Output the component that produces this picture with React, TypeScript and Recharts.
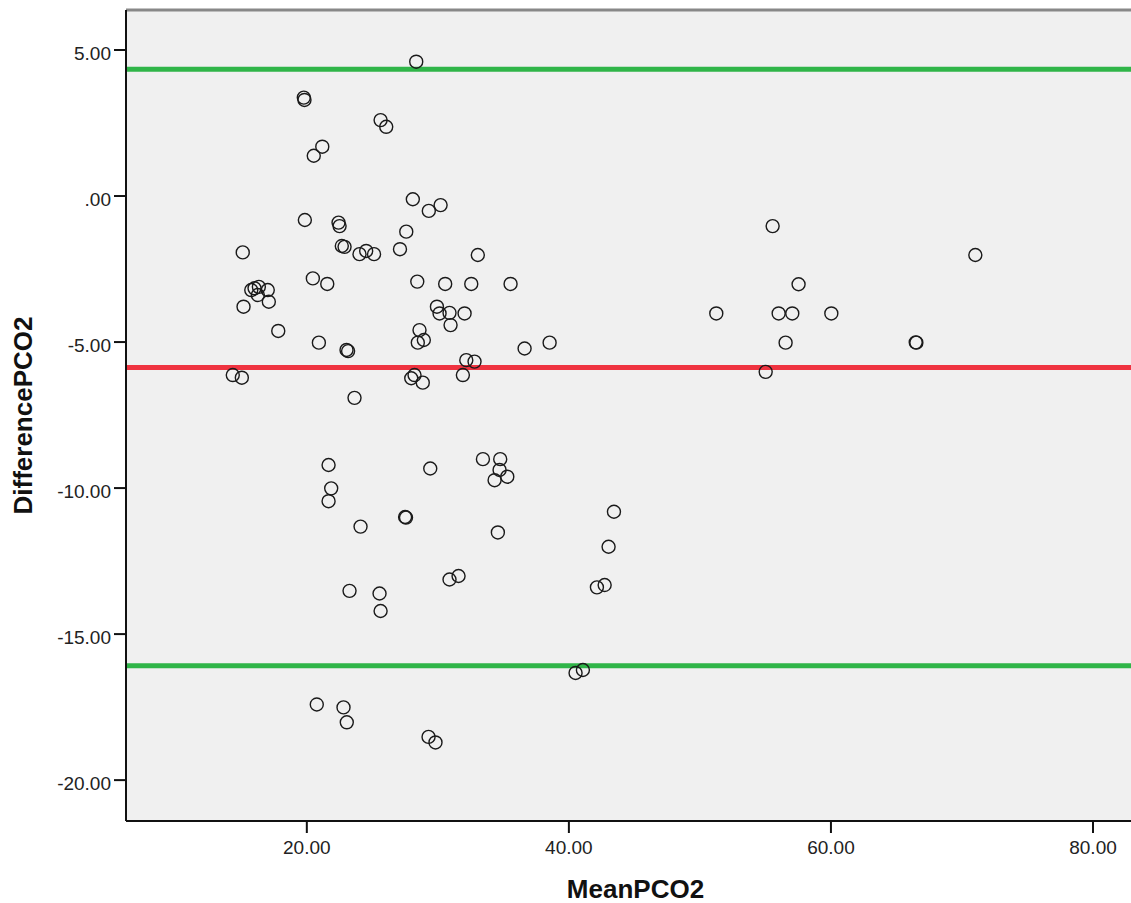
import {
  ScatterChart,
  Scatter,
  XAxis,
  YAxis,
  CartesianGrid,
  ReferenceLine,
} from "recharts";

// mean of the two PCO2 measurements (x) and their difference (y)
const meanPco2 = [
  28.35, 19.77, 19.82, 25.63, 26.06, 21.18, 20.53, 19.85, 28.09, 29.31,
  30.21, 22.42, 22.5, 27.59, 22.67, 22.88, 24.02, 24.53, 25.13, 27.11,
  15.11, 33.05, 20.46, 21.56, 28.43, 30.56, 32.55, 35.55, 15.76, 16.01,
  16.34, 16.26, 17.02, 17.1, 15.17, 17.82, 29.93, 30.13, 30.89, 30.97,
  32.04, 28.6, 28.93, 28.47, 36.62, 38.53, 32.17, 32.8, 31.91, 28.22,
  27.97, 28.85, 20.92, 23.03, 23.15, 14.35, 15.04, 23.64, 21.66, 21.86,
  21.66, 24.1, 29.42, 33.44, 34.76, 34.71, 35.3, 34.33, 27.5, 27.57,
  34.58, 43.44, 43.03, 30.89, 31.58, 42.14, 42.73, 23.26, 25.55, 25.63,
  40.51, 41.07, 20.76, 22.8, 23.05, 29.29, 29.82, 51.25, 55.55, 57.53,
  56.01, 57.05, 60.03, 56.54, 66.52, 66.47, 71.02, 55.02,
];
const diffPco2 = [
  4.6, 3.37, 3.29, 2.6, 2.37, 1.69, 1.38, -0.82, -0.11, -0.51,
  -0.31, -0.91, -1.03, -1.22, -1.71, -1.74, -1.99, -1.88, -1.99, -1.82,
  -1.93, -2.02, -2.82, -3.01, -2.93, -3.01, -3.01, -3.01, -3.22, -3.16,
  -3.11, -3.39, -3.22, -3.62, -3.79, -4.62, -3.79, -4.02, -4.0, -4.42,
  -4.02, -4.59, -4.93, -5.02, -5.22, -5.02, -5.62, -5.67, -6.13, -6.13,
  -6.24, -6.39, -5.02, -5.27, -5.31, -6.13, -6.22, -6.91, -9.21, -10.01,
  -10.45, -11.32, -9.33, -9.01, -9.01, -9.38, -9.61, -9.73, -10.99, -11.01,
  -11.52, -10.81, -12.01, -13.13, -13.01, -13.4, -13.32, -13.52, -13.61, -14.21,
  -16.33, -16.23, -17.41, -17.51, -18.02, -18.52, -18.71, -4.02, -1.03, -3.02,
  -4.02, -4.02, -4.02, -5.02, -5.02, -5.01, -2.02, -6.02,
];

const meanDiff = -5.87;
const upperLimit = 4.34;
const lowerLimit = -16.08;

const xTicks = [20, 40, 60, 80];
const yTicks = [5, 0, -5, -10, -15, -20];

const X_DOMAIN: [number, number] = [6.2, 82.9];
const Y_DOMAIN: [number, number] = [-21.4, 6.37];

const points = meanPco2.map((m, i) => ({ mean: m, diff: diffPco2[i] }));

const FONT = "'Liberation Sans', Arial, sans-serif";
const tickStyle = { fontSize: 19, fill: "#222", fontFamily: FONT };
const labelStyle = {
  fontSize: 26,
  fontWeight: "bold",
  fill: "#111",
  fontFamily: FONT,
};

const fmt = (v: number) => {
  const s = v.toFixed(2);
  return s === "0.00" ? ".00" : s;
};

const OpenCircle = (props: any) => (
  <circle
    cx={props.cx}
    cy={props.cy}
    r={6.5}
    fill="none"
    stroke="#1a1a1a"
    strokeWidth={1.4}
  />
);

export default function App() {
  return (
    <div style={{ position: "absolute", left: 0, top: 0 }}>
      <ScatterChart
        width={1131}
        height={903}
        margin={{ top: 10, right: 0, bottom: 0, left: 0 }}
      >
        <CartesianGrid
          fill="#f0f0f0"
          horizontal={false}
          vertical={false}
        />
        <XAxis
          type="number"
          dataKey="mean"
          domain={X_DOMAIN}
          allowDataOverflow
          ticks={xTicks}
          tickFormatter={fmt}
          height={82}
          tickSize={12}
          tickMargin={8}
          tick={tickStyle}
          axisLine={{ stroke: "#111", strokeWidth: 2 }}
          tickLine={{ stroke: "#111", strokeWidth: 2 }}
          label={{
            value: "MeanPCO2",
            position: "center",
            dx: 7,
            dy: 27,
            style: labelStyle,
          }}
        />
        <YAxis
          type="number"
          dataKey="diff"
          domain={Y_DOMAIN}
          allowDataOverflow
          ticks={yTicks}
          tickFormatter={fmt}
          width={126}
          tickSize={12}
          tickMargin={3}
          tick={{ ...tickStyle, dy: 3 }}
          axisLine={{ stroke: "#111", strokeWidth: 2 }}
          tickLine={{ stroke: "#111", strokeWidth: 2 }}
          label={{
            value: "DifferencePCO2",
            angle: -90,
            position: "center",
            dx: -40,
            style: labelStyle,
          }}
        />
        {/* top frame of the plot area */}
        <ReferenceLine y={Y_DOMAIN[1]} stroke="#888" strokeWidth={3} />
        <ReferenceLine y={upperLimit} stroke="#2fb548" strokeWidth={5} />
        <ReferenceLine y={meanDiff} stroke="#ef3340" strokeWidth={5} />
        <ReferenceLine y={lowerLimit} stroke="#2fb548" strokeWidth={5} />
        <Scatter
          data={points}
          shape={OpenCircle}
          isAnimationActive={false}
        />
      </ScatterChart>
    </div>
  );
}
